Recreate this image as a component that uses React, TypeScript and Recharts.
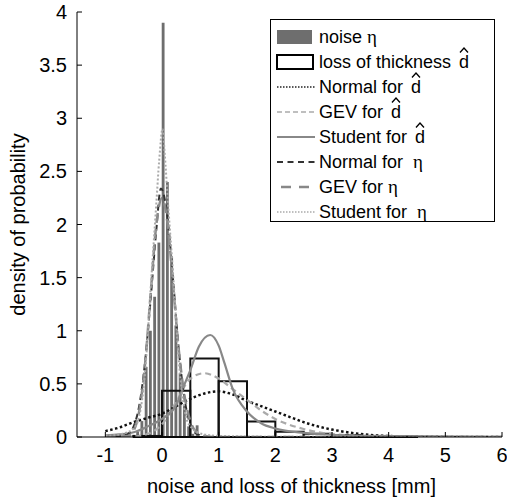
import React from "react";
import {
  ComposedChart,
  Line,
  XAxis,
  YAxis,
  ReferenceArea,
} from "recharts";

// noise eta histogram (bin centres, density)
const NOISE_CENTERS = [-0.505, -0.43, -0.355, -0.28, -0.205, -0.13, -0.055, 0.02, 0.095, 0.17, 0.245, 0.32, 0.395, 0.47, 0.545, 0.62];
const NOISE_DENSITY = [0.02, 0.05, 0.15, 0.66, 1.0, 1.32, 1.83, 3.9, 2.4, 1.7, 1.05, 0.6, 0.3, 0.1, 0.03, 0.11];
const NOISE_BAR = 0.05;

// loss of thickness histogram (left edges, density)
const LOSS_EDGES = [-0.5, 0, 0.5, 1, 1.5, 2, 2.5, 3, 3.5, 4];
const LOSS_DENSITY = [0.01, 0.435, 0.74, 0.525, 0.145, 0.05, 0.03, 0.02, 0.01, 0.005];
const LOSS_BIN = 0.5;

// fitted curves for d-hat
const D_X = [-1, -0.75, -0.5, -0.25, 0, 0.25, 0.5, 0.75, 1, 1.25, 1.5, 1.75, 2, 2.25, 2.5, 2.75, 3, 3.5, 4, 5, 6];
const NORMAL_D = [0.055, 0.09, 0.14, 0.18, 0.22, 0.29, 0.36, 0.41, 0.43, 0.4, 0.34, 0.29, 0.24, 0.19, 0.14, 0.1, 0.07, 0.028, 0.009, 0.001, 0];
const GEV_D = [0, 0.002, 0.005, 0.03, 0.12, 0.33, 0.55, 0.6, 0.55, 0.45, 0.35, 0.25, 0.17, 0.115, 0.075, 0.045, 0.028, 0.01, 0.004, 0.001, 0];
const STUDENT_D_X = [-1, -0.75, -0.5, -0.25, 0, 0.25, 0.4, 0.5, 0.65, 0.85, 1, 1.1, 1.25, 1.5, 1.75, 2, 2.5, 3, 3.5, 4, 5, 6];
const STUDENT_D = [0.015, 0.025, 0.045, 0.1, 0.17, 0.3, 0.5, 0.63, 0.85, 0.96, 0.86, 0.7, 0.45, 0.24, 0.13, 0.08, 0.038, 0.02, 0.012, 0.008, 0.004, 0.002];

// fitted curves for eta
const NORMAL_ETA_X = [-1, -0.8, -0.6, -0.5, -0.4, -0.3, -0.2, -0.1, -0.02, 0.1, 0.2, 0.3, 0.4, 0.5, 0.6, 0.8, 1, 2, 4, 6];
const NORMAL_ETA = [0, 0.003, 0.03, 0.1, 0.3, 0.7, 1.3, 1.95, 2.34, 2.05, 1.45, 0.8, 0.35, 0.12, 0.035, 0.003, 0, 0, 0, 0];
const GEV_ETA_X = [-1, -0.6, -0.5, -0.4, -0.3, -0.2, -0.1, 0, 0.1, 0.2, 0.3, 0.4, 0.5, 0.6, 0.8, 1, 6];
const GEV_ETA = [0, 0.01, 0.06, 0.25, 0.68, 1.35, 2.0, 2.25, 2.0, 1.4, 0.8, 0.38, 0.15, 0.05, 0.005, 0, 0];
const STUDENT_ETA_X = [-1, -0.7, -0.5, -0.4, -0.3, -0.2, -0.1, -0.05, 0.01, 0.05, 0.1, 0.2, 0.3, 0.4, 0.5, 0.7, 1, 2, 6];
const STUDENT_ETA = [0.01, 0.03, 0.08, 0.2, 0.6, 1.4, 2.2, 2.6, 2.9, 2.65, 2.25, 1.5, 0.7, 0.25, 0.1, 0.03, 0.01, 0.003, 0];

const X_TICKS = [-1, 0, 1, 2, 3, 4, 5, 6];
const Y_TICKS = [0, 0.5, 1, 1.5, 2, 2.5, 3, 3.5, 4];

const toPoints = (xs: number[], ys: number[]) => xs.map((x, i) => ({ x, y: ys[i] }));

const FONT = "'Liberation Sans', Arial, sans-serif";
const tickStyle = { fontSize: 20, fill: "#000" };

// "d" with a hat drawn above it
const DHat = () => (
  <span style={{ position: "relative", display: "inline-block", marginLeft: 3 }}>
    d
    <svg width={10} height={6} style={{ position: "absolute", left: 0, top: -5 }}>
      <polyline points="1,5.5 5,1 9,5.5" fill="none" stroke="#000" strokeWidth={1.3} />
    </svg>
  </span>
);
const Eta = () => <span style={{ fontFamily: "'Liberation Serif', serif", fontSize: 19 }}>η</span>;

const legendRows: { icon: React.ReactNode; label: React.ReactNode }[] = [
  { icon: <rect x={2} y={3} width={35} height={14} fill="#6e6e6e" />, label: <>noise <Eta /></> },
  { icon: <rect x={2} y={3} width={36} height={14} fill="#fff" stroke="#000" strokeWidth={2} />, label: <>loss of thickness <DHat /></> },
  { icon: <line x1={2} y1={10} x2={40} y2={10} stroke="#222" strokeWidth={1.5} strokeDasharray="1.5 1.5" />, label: <>Normal for <DHat /></> },
  { icon: <line x1={2} y1={10} x2={40} y2={10} stroke="#aaa" strokeWidth={1.5} strokeDasharray="5 3" />, label: <>GEV for <DHat /></> },
  { icon: <line x1={2} y1={10} x2={40} y2={10} stroke="#888" strokeWidth={2} />, label: <>Student for <DHat /></> },
  { icon: <line x1={2} y1={10} x2={40} y2={10} stroke="#333" strokeWidth={2} strokeDasharray="6 4.5" />, label: <>Normal for &nbsp;<Eta /></> },
  { icon: <line x1={6} y1={10} x2={40} y2={10} stroke="#888" strokeWidth={2.5} strokeDasharray="10 8" />, label: <>GEV for <Eta /></> },
  { icon: <line x1={2} y1={10} x2={40} y2={10} stroke="#aaa" strokeWidth={1.5} strokeDasharray="1.5 1.5" />, label: <>Student for &nbsp;<Eta /></> },
];

function LegendBox() {
  return (
    <div
      style={{
        position: "absolute",
        left: 270,
        top: 19,
        width: 225,
        height: 203,
        border: "1px solid #000",
        background: "#fff",
        boxSizing: "border-box",
        paddingTop: 4,
      }}
    >
      {legendRows.map((r, i) => (
        <div key={i} style={{ display: "flex", alignItems: "center", height: 25, fontSize: 18, lineHeight: "20px" }}>
          <svg width={44} height={20} style={{ marginLeft: 4, flex: "none" }}>
            {r.icon}
          </svg>
          <span style={{ whiteSpace: "nowrap" }}>{r.label}</span>
        </div>
      ))}
    </div>
  );
}

export default function App() {
  return (
    <div style={{ position: "absolute", left: 0, top: 0, width: 507, height: 497, fontFamily: FONT, background: "#fff" }}>
      <ComposedChart width={507} height={497} margin={{ top: 12, right: 5, bottom: 0, left: 0 }}>
        <XAxis
          xAxisId={0}
          dataKey="x"
          type="number"
          domain={[-1.5, 6]}
          allowDataOverflow
          ticks={X_TICKS}
          height={60}
          tickSize={-5}
          tickMargin={16}
          tick={tickStyle}
          stroke="#000"
          label={{ value: "noise and loss of thickness [mm]", position: "center", dy: 19, dx: 2, fontSize: 20, fill: "#000" }}
        />
        <XAxis
          xAxisId="top"
          orientation="top"
          type="number"
          domain={[-1.5, 6]}
          allowDataOverflow
          ticks={X_TICKS}
          height={0}
          tickSize={-5}
          tickFormatter={() => ""}
          stroke="#000"
        />
        <YAxis
          yAxisId={0}
          type="number"
          domain={[0, 4]}
          allowDataOverflow
          ticks={Y_TICKS}
          width={77}
          tickSize={-5}
          tickMargin={15}
          tick={tickStyle}
          stroke="#000"
          label={{ value: "density of probability", angle: -90, position: "center", dx: -21, fontSize: 20, fill: "#000" }}
        />
        <YAxis
          yAxisId="right"
          orientation="right"
          type="number"
          domain={[0, 4]}
          allowDataOverflow
          ticks={Y_TICKS}
          width={0}
          tickSize={-5}
          tickFormatter={() => ""}
          stroke="#000"
        />

        {NOISE_CENTERS.map((c, i) => (
          <ReferenceArea
            key={`n-${i}`}
            x1={c - NOISE_BAR / 2}
            x2={c + NOISE_BAR / 2}
            y1={0}
            y2={NOISE_DENSITY[i]}
            fill="#6e6e6e"
            fillOpacity={1}
            stroke="none"
          />
        ))}
        {LOSS_EDGES.map((e, i) => (
          <ReferenceArea
            key={`d-${i}`}
            x1={e}
            x2={e + LOSS_BIN}
            y1={0}
            y2={LOSS_DENSITY[i]}
            fill="none"
            fillOpacity={0}
            stroke="#111"
            strokeWidth={2}
          />
        ))}

        <Line data={toPoints(D_X, NORMAL_D)} dataKey="y" type="monotone" dot={false} activeDot={false} isAnimationActive={false} stroke="#111" strokeWidth={2.5} strokeDasharray="2.5 2.5" />
        <Line data={toPoints(D_X, GEV_D)} dataKey="y" type="monotone" dot={false} activeDot={false} isAnimationActive={false} stroke="#aaa" strokeWidth={2.2} strokeDasharray="6 4" />
        <Line data={toPoints(STUDENT_D_X, STUDENT_D)} dataKey="y" type="monotone" dot={false} activeDot={false} isAnimationActive={false} stroke="#888" strokeWidth={2.2} />
        <Line data={toPoints(NORMAL_ETA_X, NORMAL_ETA)} dataKey="y" type="monotone" dot={false} activeDot={false} isAnimationActive={false} stroke="#333" strokeWidth={2} strokeDasharray="6 4" />
        <Line data={toPoints(GEV_ETA_X, GEV_ETA)} dataKey="y" type="monotone" dot={false} activeDot={false} isAnimationActive={false} stroke="#8a8a8a" strokeWidth={2.5} strokeDasharray="10 6" />
        <Line data={toPoints(STUDENT_ETA_X, STUDENT_ETA)} dataKey="y" type="monotone" dot={false} activeDot={false} isAnimationActive={false} stroke="#aaa" strokeWidth={2} strokeDasharray="2 2" />
      </ComposedChart>
      <LegendBox />
    </div>
  );
}
